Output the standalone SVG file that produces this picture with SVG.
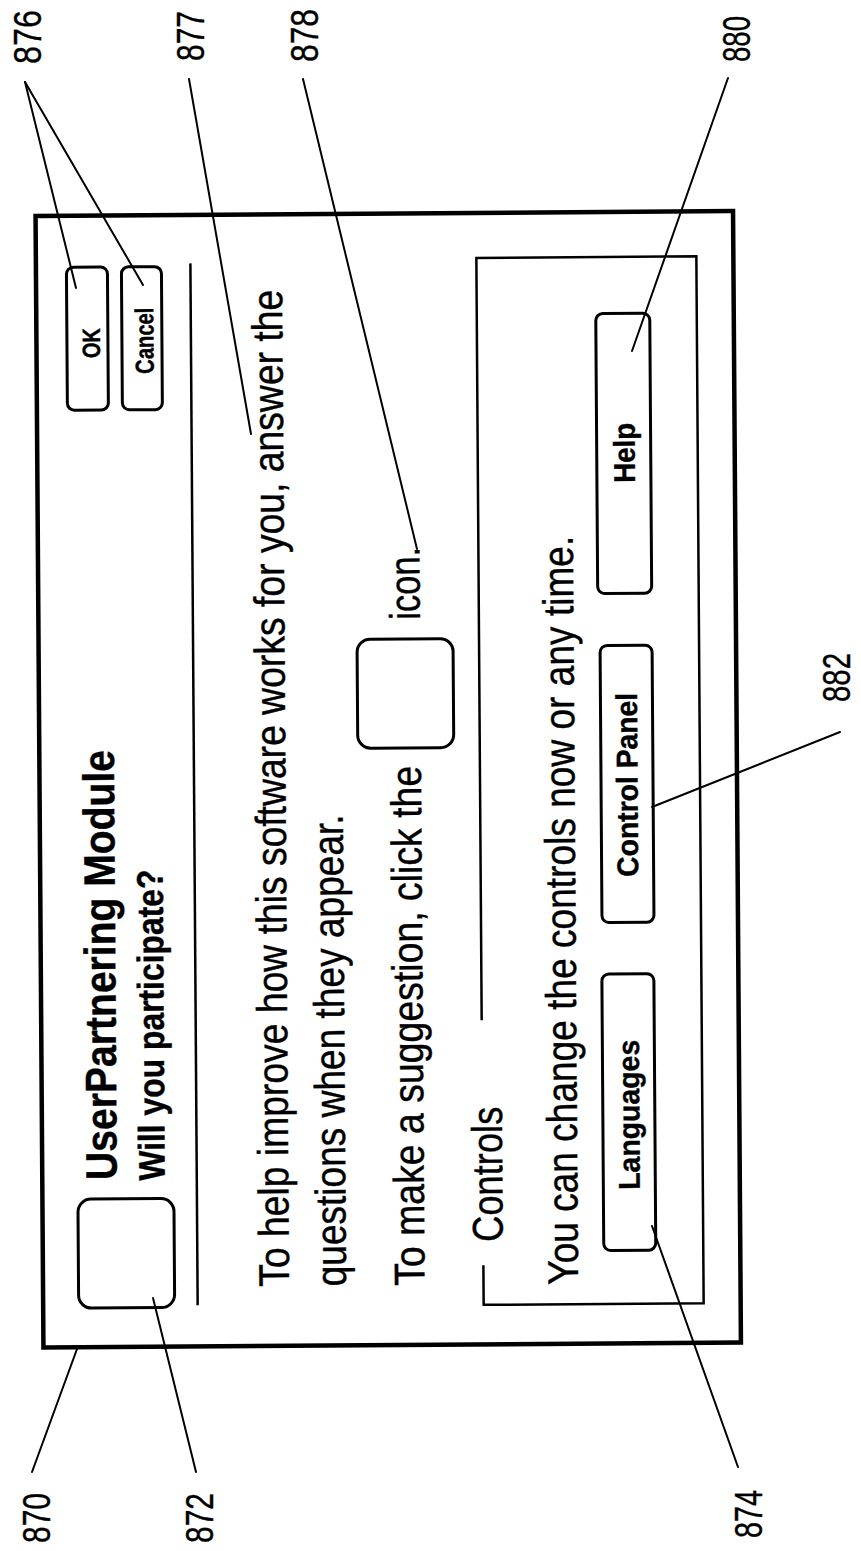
<svg xmlns="http://www.w3.org/2000/svg" width="861" height="1551" viewBox="0 0 861 1551">
<style>
.f{font-family:"Liberation Sans",Arial,Helvetica,sans-serif;fill:#000;stroke:#000;stroke-width:0.4}
.bd{font-weight:bold}
.body{font-size:43px}
.lbl{font-size:38px}
.btn{fill:none;stroke:#000;stroke-width:3}
.ln{fill:none;stroke:#000;stroke-width:2.5}
.lead{fill:none;stroke:#000;stroke-width:2;stroke-linecap:round}
</style>
<rect width="861" height="1551" fill="#fff"/>
<g id="dialog" transform="rotate(-0.4 390 780)">
 <g id="n870">
  <rect x="39.5" y="213.5" width="697.5" height="1131.5" fill="none" stroke="#000" stroke-width="4.5"/>
 </g>
 <g id="n872">
  <rect class="btn" x="75" y="1197" width="96" height="109" rx="13"/>
 </g>
 <g id="header">
  <text class="f bd" font-size="44" transform="translate(114,1178) rotate(-90)" textLength="430" lengthAdjust="spacingAndGlyphs">UserPartnering Module</text>
  <text class="f bd" font-size="37" transform="translate(162,1179) rotate(-90)" textLength="311" lengthAdjust="spacingAndGlyphs">Will you participate?</text>
  <line class="ln" x1="194" y1="262" x2="194" y2="1304"/>
 </g>
 <g id="n876-ok">
  <rect class="btn" x="70" y="265" width="41" height="143" rx="7"/>
  <text class="f bd" font-size="25" transform="translate(103,356) rotate(-90)" textLength="30" lengthAdjust="spacingAndGlyphs">OK</text>
 </g>
 <g id="n876-cancel">
  <rect class="btn" x="125" y="265" width="40" height="143" rx="7"/>
  <text class="f bd" font-size="26" transform="translate(156.5,372) rotate(-90)" textLength="66" lengthAdjust="spacingAndGlyphs">Cancel</text>
 </g>
 <g id="n877">
  <text class="f body" transform="translate(285.5,1286) rotate(-90)" textLength="997" lengthAdjust="spacingAndGlyphs">To help improve how this software works for you, answer the</text>
  <text class="f body" transform="translate(342.5,1286) rotate(-90)" textLength="472" lengthAdjust="spacingAndGlyphs">questions when they appear.</text>
 </g>
 <g id="n878">
  <text class="f body" transform="translate(421,1286) rotate(-90)" textLength="520" lengthAdjust="spacingAndGlyphs">To make a suggestion, click the</text>
  <rect class="btn" x="358" y="639" width="96" height="109" rx="13"/>
  <text class="f body" transform="translate(421,620) rotate(-90)" textLength="73" lengthAdjust="spacingAndGlyphs">icon.</text>
 </g>
 <g id="controls">
  <path class="ln" d="M480 1021 V258.5 H700 V1305.5 H480 V1266"/>
  <text class="f body" transform="translate(499.5,1242.5) rotate(-90)" textLength="135" lengthAdjust="spacingAndGlyphs">Controls</text>
  <text class="f body" transform="translate(574.5,1286) rotate(-90)" textLength="749" lengthAdjust="spacingAndGlyphs">You can change the controls now or any time.</text>
 </g>
 <g id="n874">
  <rect class="btn" x="600.5" y="975.5" width="52" height="276.5" rx="7"/>
  <text class="f bd" font-size="30" transform="translate(637,1191.5) rotate(-90)" textLength="150" lengthAdjust="spacingAndGlyphs">Languages</text>
 </g>
 <g id="n882">
  <rect class="btn" x="601" y="647" width="52" height="277" rx="7"/>
  <text class="f bd" font-size="30" transform="translate(637.5,878.5) rotate(-90)" textLength="184" lengthAdjust="spacingAndGlyphs">Control Panel</text>
 </g>
 <g id="n880">
  <rect class="btn" x="599" y="315" width="54" height="280" rx="7"/>
  <text class="f bd" font-size="30" transform="translate(637,484.5) rotate(-90)" textLength="60" lengthAdjust="spacingAndGlyphs">Help</text>
 </g>
</g>
<g id="connectors">
 <path class="lead" d="M25 82 L76 288"/>
 <path class="lead" d="M25 82 L143 285"/>
 <path class="lead" d="M189 79 L251 434"/>
 <path class="lead" d="M303 79 L417 549"/>
 <path class="lead" d="M728 78 L632 351"/>
 <path class="lead" d="M840 732 L652 807"/>
 <path class="lead" d="M32 1472 L77 1349"/>
 <path class="lead" d="M196 1472 L153 1298"/>
 <path class="lead" d="M738 1467 L652 1226"/>
</g>
<g id="labels">
 <text class="f lbl" transform="translate(41,64) rotate(-90)" textLength="54" lengthAdjust="spacingAndGlyphs">876</text>
 <text class="f lbl" transform="translate(204,61) rotate(-90)" textLength="50" lengthAdjust="spacingAndGlyphs">877</text>
 <text class="f lbl" transform="translate(318,62) rotate(-90)" textLength="53" lengthAdjust="spacingAndGlyphs">878</text>
 <text class="f lbl" transform="translate(750,62) rotate(-90)" textLength="46" lengthAdjust="spacingAndGlyphs">880</text>
 <text class="f lbl" transform="translate(850,702) rotate(-90)" textLength="49" lengthAdjust="spacingAndGlyphs">882</text>
 <text class="f lbl" transform="translate(50,1543) rotate(-90)" textLength="50" lengthAdjust="spacingAndGlyphs">870</text>
 <text class="f lbl" transform="translate(213,1543) rotate(-90)" textLength="50" lengthAdjust="spacingAndGlyphs">872</text>
 <text class="f lbl" transform="translate(762,1538) rotate(-90)" textLength="48" lengthAdjust="spacingAndGlyphs">874</text>
</g>
</svg>
